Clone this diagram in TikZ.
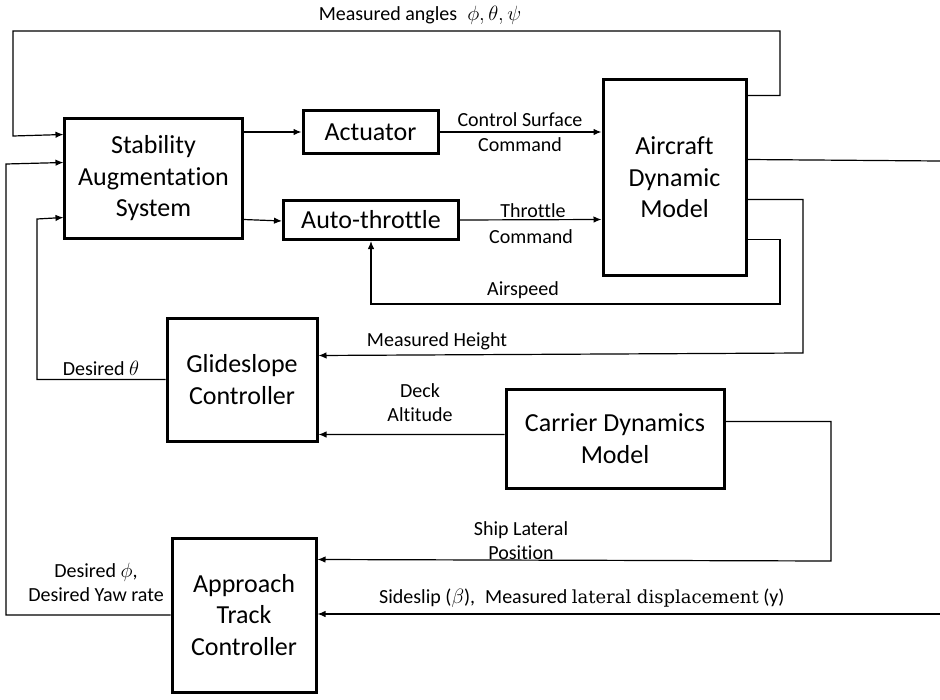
\documentclass[tikz,border=0pt]{standalone}
\usepackage{fontspec}
\setmainfont[Ligatures=NoCommon]{Carlito}
\newfontfamily\serifpart{DejaVu Serif}
\usetikzlibrary{arrows.meta,calc}
\begin{document}
\begin{tikzpicture}[x=1bp,y=-1bp,
  blk/.style={draw,line width=3bp,align=center,inner sep=0pt,
    font=\fontsize{26bp}{31.5bp}\selectfont},
  conn/.style={line width=1.2bp},
  arr/.style={conn,-{Latex[length=8bp,width=6.5bp]}},
  lbl/.style={align=center,inner sep=0pt,font=\fontsize{20bp}{24bp}\selectfont}]
\useasboundingbox (0,0) rectangle (940,700);
% blocks
\node[blk,minimum width=177bp,minimum height=119bp] (sas) at (153.5,178.5) {Stability\\Augmentation\\System};
\node[blk,minimum width=135bp,minimum height=42bp] (act) at (370.5,132) {Actuator};
\node[blk,minimum width=175bp,minimum height=39bp] (thr) at (371,220) {Auto-throttle};
\node[blk,minimum width=143bp,minimum height=195bp] (ac) at (674.5,177.5) {Aircraft\\Dynamic\\Model};
\node[blk,minimum width=150bp,minimum height=123bp] (gs) at (242,379.5) {Glideslope\\Controller};
\node[blk,minimum width=218bp,minimum height=99bp] (cd) at (615,438.5) {Carrier Dynamics\\Model};
\node[blk,minimum width=144bp,minimum height=154bp] (at) at (244,615) {Approach\\Track\\Controller};
% free ends
\coordinate (outA) at (940,161);
\coordinate (outB) at (940,614);
% measured angles
\draw[arr] ($(ac.north east)+(0,17)$) -| (780,31) -| (13,136) -- ($(sas.north west)+(0,17)$);
\node[lbl] (lang) at (420,15) {Measured angles\enspace$\phi,\theta,\psi$};
% desired phi
\draw[arr] (at.west) -| (6,164) -- ($(sas.north west)+(0,45)$);
\node[lbl] (ldphi) at (96,582) {Desired $\phi$,\\Desired Yaw rate};
% desired theta
\draw[arr] (gs.west) -| (37,219) -- ($(sas.north west)+(0,100)$);
\node[lbl] (ldth) at (101,368) {Desired $\theta$};
% SAS to actuator / throttle
\draw[arr] (sas.east |- act.west) -- (act.west);
\draw[arr] ($(sas.north east)+(0,102)$) -- ($(thr.north west)+(0,22)$);
% actuator to aircraft
\draw[arr] (act.east) -- (act.east -| ac.west);
\node[lbl] (lcs) at (520,120) {Control Surface};
\node[lbl] (lcsc) at (520,145) {Command};
% throttle to aircraft
\draw[arr] ($(thr.north east)+(0,21)$) -- ($(ac.north west)+(0,141)$);
\node[lbl] (lth) at (533,211) {Throttle};
\node[lbl] (lthc) at (531,237) {Command};
% airspeed
\draw[arr] ($(ac.south east)+(0,-37)$) -| (780,304) -| (thr.south);
\node[lbl] (lair) at (523,290) {Airspeed};
% measured height
\draw[arr] ($(ac.north east)+(0,121)$) -| (803,353) -- ($(gs.north east)+(0,39)$);
\node[lbl] (lmh) at (437,341) {Measured Height};
% aircraft output to right
\draw[conn] ($(ac.north east)+(0,81)$) -- (outA);
% deck altitude
\draw[arr] ($(cd.north west)+(0,47)$) -- ($(gs.north east)+(0,118)$);
\node[lbl] (lda) at (420,403) {Deck\\Altitude};
% ship lateral position
\draw[arr] ($(cd.north east)+(0,34)$) -| (831,561) -- ($(at.north east)+(0,23)$);
\node[lbl] (lslp) at (521,541) {Ship Lateral\\Position};
% sideslip
\draw[arr] (outB) -- (outB -| at.east);
\node[lbl,anchor=west] (lss) at (379,598) {Sideslip ($\beta$),\enspace Measured {\serifpart\fontsize{18bp}{22bp}\selectfont lateral displacement} (y)};
\end{tikzpicture}
\end{document}
